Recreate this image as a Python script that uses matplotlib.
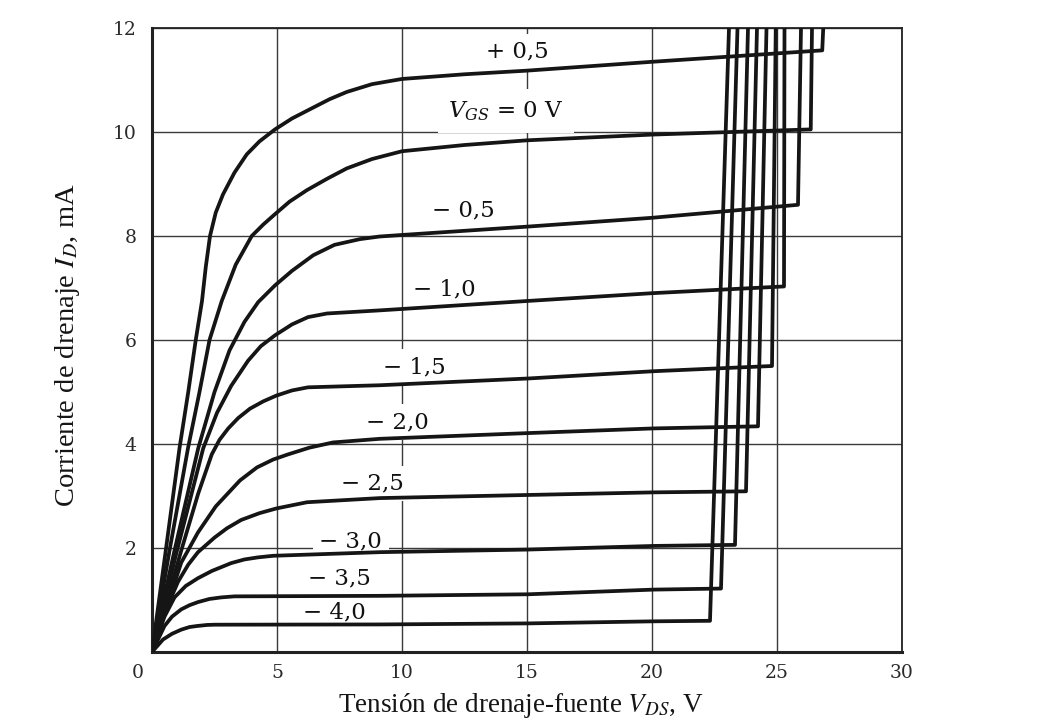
import numpy as np
import matplotlib.pyplot as plt
from matplotlib.transforms import ScaledTranslation

# V_GS labels shown next to each curve
vgs_labels = ['+ 0,5', None, '\u2212 0,5', '\u2212 1,0', '\u2212 1,5',
              '\u2212 2,0', '\u2212 2,5', '\u2212 3,0', '\u2212 3,5', '\u2212 4,0']

# drain characteristics (V_DS in V, I_D in mA), origin -> breakdown corner
v_p05 = [0, 0.55, 1.1, 1.45, 1.75, 2.0, 2.15, 2.32, 2.55, 2.84, 3.3, 3.79, 4.3, 4.92,
         5.6, 6.45, 7.1, 7.79, 8.8, 10.0, 12.5, 15.0, 20.0, 26.81]
i_p05 = [0, 1.95, 3.92, 5.0, 6.0, 6.75, 7.4, 8.0, 8.45, 8.8, 9.22, 9.57, 9.82, 10.05,
         10.26, 10.47, 10.63, 10.77, 10.92, 11.02, 11.11, 11.18, 11.35, 11.57]

v_0 = [0, 0.7, 1.44, 1.9, 2.3, 2.79, 3.35, 3.99, 4.45, 4.92, 5.5, 6.19, 7.0, 7.79, 8.8,
       10.0, 12.5, 15.0, 20.0, 26.35]
i_0 = [0, 1.95, 3.92, 5.0, 6.0, 6.75, 7.45, 8.0, 8.22, 8.42, 8.66, 8.88, 9.1, 9.3, 9.48,
       9.63, 9.75, 9.84, 9.95, 10.05]

v_m05 = [0, 0.9, 1.85, 2.5, 3.1, 3.7, 4.25, 4.92, 5.6, 6.45, 7.3, 8.32, 9.1, 10.0,
         15.0, 20.0, 25.84]
i_m05 = [0, 1.95, 3.92, 5.0, 5.8, 6.35, 6.73, 7.05, 7.33, 7.63, 7.83, 7.94, 7.99, 8.02,
         8.18, 8.35, 8.6]

v_m10 = [0, 1.0, 2.05, 2.6, 3.17, 3.84, 4.35, 4.92, 5.6, 6.24, 7.0, 9.12, 15.0, 20.0, 25.28]
i_m10 = [0, 1.95, 3.92, 4.6, 5.12, 5.6, 5.88, 6.09, 6.3, 6.44, 6.51, 6.57, 6.75, 6.9, 7.03]

v_m15 = [0, 1.2, 1.85, 2.39, 2.7, 3.05, 3.45, 3.92, 4.45, 4.97, 5.6, 6.24, 9.12, 15.05,
         20.08, 24.8]
i_m15 = [0, 2.0, 3.05, 3.8, 4.08, 4.3, 4.5, 4.68, 4.82, 4.93, 5.03, 5.09, 5.13, 5.26,
         5.4, 5.5]

v_m20 = [0, 1.17, 1.84, 2.55, 3.52, 4.2, 4.84, 5.44, 6.3, 7.24, 9.12, 15.05, 20.08, 24.24]
i_m20 = [0, 1.72, 2.3, 2.8, 3.3, 3.55, 3.7, 3.8, 3.93, 4.03, 4.1, 4.21, 4.3, 4.34]

v_m25 = [0, 0.5, 1.04, 1.45, 1.84, 2.5, 3.0, 3.57, 4.3, 4.97, 6.2, 9.12, 15.05, 20.08, 23.76]
i_m25 = [0, 0.75, 1.35, 1.68, 1.92, 2.2, 2.38, 2.54, 2.67, 2.76, 2.88, 2.96, 3.02, 3.07, 3.09]

v_m30 = [0, 0.5, 0.9, 1.35, 1.84, 2.4, 3.17, 3.7, 4.24, 4.84, 9.12, 15.05, 20.08, 23.32]
i_m30 = [0, 0.68, 1.05, 1.27, 1.42, 1.56, 1.71, 1.78, 1.82, 1.85, 1.92, 1.97, 2.04, 2.06]

v_m35 = [0, 0.5, 0.8, 1.17, 1.5, 1.84, 2.3, 2.77, 3.3, 9.12, 15.05, 20.08, 22.76]
i_m35 = [0, 0.5, 0.68, 0.82, 0.9, 0.96, 1.02, 1.05, 1.07, 1.08, 1.11, 1.2, 1.22]

v_m40 = [0, 0.44, 0.8, 1.17, 1.5, 1.8, 2.2, 2.5, 9.12, 15.05, 20.08, 22.32]
i_m40 = [0, 0.24, 0.35, 0.43, 0.48, 0.5, 0.52, 0.525, 0.53, 0.55, 0.59, 0.6]

# x where each breakdown line meets the top of the chart (I_D = 12 mA)
v_top = [26.85, 26.4, 25.96, 25.3, 24.95, 24.58, 24.2, 23.84, 23.42, 23.08]

# label anchor points (centre of text)
lab_v = [14.6, None, 12.45, 11.7, 10.5, 9.8, 8.8, 7.95, 7.5, 7.3]
lab_i = [11.54, None, 8.5, 6.98, 5.48, 4.42, 3.24, 2.13, 1.41, 0.77]

xticks = [0, 5, 10, 15, 20, 25, 30]
yticks = [2, 4, 6, 8, 10, 12]

curves_v = [v_p05, v_0, v_m05, v_m10, v_m15, v_m20, v_m25, v_m30, v_m35, v_m40]
curves_i = [i_p05, i_0, i_m05, i_m10, i_m15, i_m20, i_m25, i_m30, i_m35, i_m40]

fig = plt.figure(figsize=(10.4, 7.27), dpi=100)
ax = fig.add_axes([152 / 1040, 75 / 727, 750 / 1040, 624 / 727])
ax.set_xlim(0, 30)
ax.set_ylim(0, 12)

ax.set_xticks(xticks)
ax.set_yticks(yticks)
ax.grid(True, color='#3a3a3a', lw=1.0, zorder=0)
ax.set_axisbelow(True)
ax.tick_params(length=0, labelsize=13.5, labelcolor='#2a2a2a')
ax.tick_params(axis='x', pad=9)
ax.tick_params(axis='y', pad=11)
for lab in ax.get_xticklabels() + ax.get_yticklabels():
    lab.set_family('DejaVu Serif')
# the "0" at the corner sits a bit left of the axis
x0lab = ax.get_xticklabels()[0]
x0lab.set_transform(x0lab.get_transform() + ScaledTranslation(-0.14, 0, fig.dpi_scale_trans))

for side in ['left', 'bottom']:
    ax.spines[side].set_linewidth(2.2)
for side in ['top', 'right']:
    ax.spines[side].set_linewidth(1.3)
for sp in ax.spines.values():
    sp.set_color('#222222')

for v, i, vt in zip(curves_v, curves_i, v_top):
    ax.plot(list(v) + [vt], list(i) + [12], color='#151515', lw=2.7,
            solid_joinstyle='round', zorder=3)

box = dict(boxstyle='square,pad=0.3', fc='white', ec='none')
for s, lv, li in zip(vgs_labels, lab_v, lab_i):
    if s is None:
        continue
    ax.text(lv, li, s, ha='center', va='center', fontsize=16.5, color='#111111',
            family='DejaVu Serif', bbox=box, zorder=2)

ax.text(14.15, 10.4, r'$V_{GS}$ = 0 V', ha='center', va='center', fontsize=16.5,
        color='#111111', family='DejaVu Serif', math_fontfamily='dejavuserif',
        bbox=dict(boxstyle='square,pad=0.45', fc='white', ec='none'), zorder=2)

fig.text(521 / 1040, 1 - 706 / 727, r'Tensión de drenaje-fuente $V_{DS}$, V',
         ha='center', va='center', fontsize=19.5, family='Liberation Serif',
         math_fontfamily='stix', color='#151515')
fig.text(68 / 1040, 1 - 345 / 727, r'Corriente de drenaje $I_D$, mA',
         ha='center', va='center', rotation=90, fontsize=20.5,
         family='Liberation Serif', math_fontfamily='stix', color='#151515')

fig.savefig('out.png', dpi=100)
